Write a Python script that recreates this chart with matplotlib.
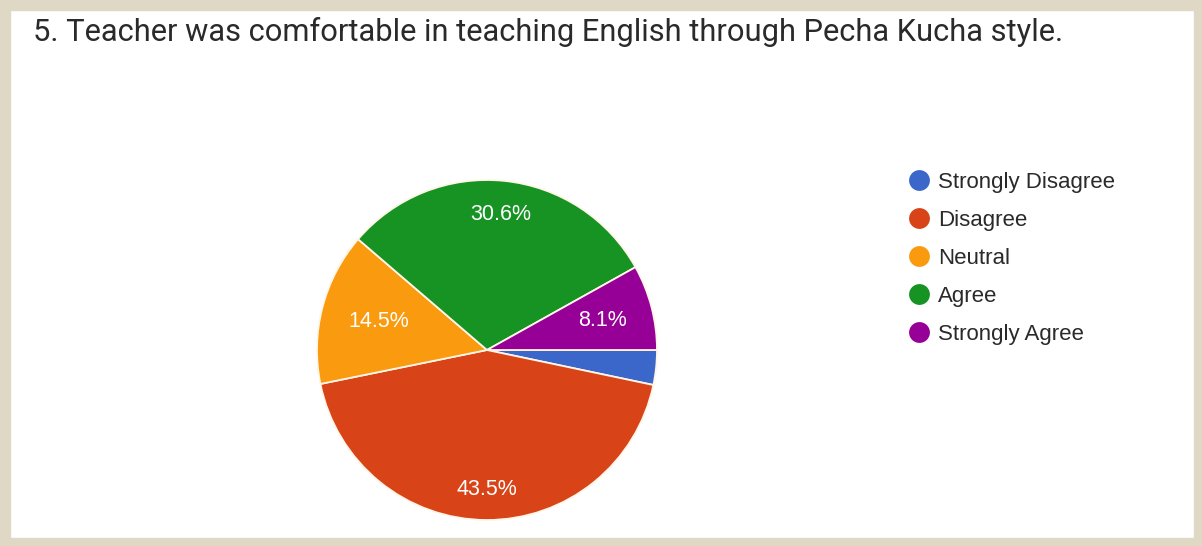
import matplotlib.pyplot as plt
import numpy as np
from matplotlib.patches import Rectangle
from matplotlib.lines import Line2D

responses = ["Strongly Disagree", "Disagree", "Neutral", "Agree", "Strongly Agree"]
shares = [3.3, 43.5, 14.5, 30.6, 8.1]
colors = ["#3A67C9", "#D84417", "#F99A0F", "#169323", "#960097"]
# how far from the centre each percentage sits (fraction of the radius)
label_dist = [0.8, 0.82, 0.66, 0.8, 0.7]

W, H = 1202, 546
fig = plt.figure(figsize=(W / 100, H / 100), dpi=100)
fig.patch.set_facecolor("white")

# beige frame round the whole card
frame = "#DED8C4"
fig.patches.extend([
    Rectangle((0, 0), 1, 8 / H, transform=fig.transFigure, color=frame, zorder=0),
    Rectangle((0, 1 - 10 / H), 1, 10 / H, transform=fig.transFigure, color=frame, zorder=0),
    Rectangle((0, 0), 10 / W, 1, transform=fig.transFigure, color=frame, zorder=0),
    Rectangle((1 - 8 / W, 0), 8 / W, 1, transform=fig.transFigure, color=frame, zorder=0),
])

fig.text(33 / W, 1 - 32 / H, "5. Teacher was comfortable in teaching English through Pecha Kucha style.",
         fontsize=22.2, family="Roboto", color="#2a2a2a", va="center", ha="left")

cx, cy, r = 487, 350, 170
ax = fig.add_axes([(cx - r) / W, (H - cy - r) / H, 2 * r / W, 2 * r / H])

wedges, texts, autotexts = ax.pie(
    shares, colors=colors, startangle=0, counterclock=False,
    autopct=lambda p: f"{p:.1f}%" if p > 5 else "",
    wedgeprops=dict(edgecolor="#FFF6E8", linewidth=1.3),
    textprops=dict(color="white", fontsize=15.5, family="Liberation Sans"),
)
ax.set_xlim(-1, 1)
ax.set_ylim(-1, 1)

for w, t, d in zip(wedges, autotexts, label_dist):
    ang = np.deg2rad((w.theta1 + w.theta2) / 2)
    t.set_position((d * np.cos(ang), d * np.sin(ang)))
    t.set_ha("center")
    t.set_va("center")

handles = [Line2D([], [], ls="none", marker="o", markersize=15, color=c, markeredgewidth=0)
           for c in colors]
fig.legend(handles, responses, loc="upper left", bbox_to_anchor=(888 / W, 1 - 152 / H),
           frameon=False, handlelength=1.0, handletextpad=0.35, labelspacing=0.76,
           labelcolor="#2a2a2a", prop=dict(family="Liberation Sans", size=16))

fig.savefig("out.png", dpi=100)
